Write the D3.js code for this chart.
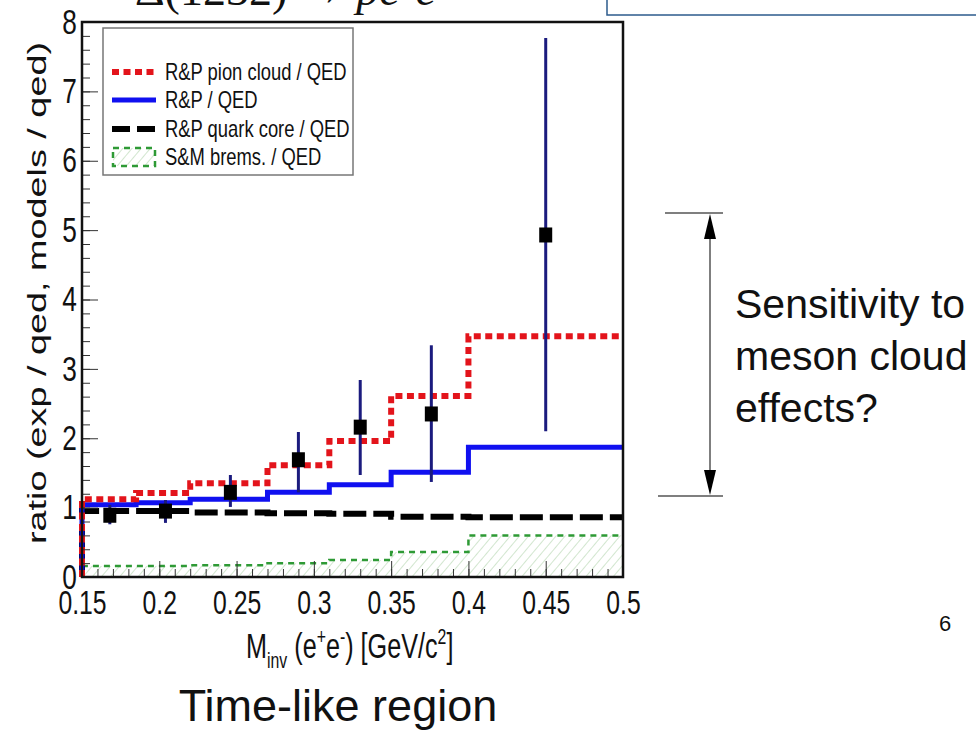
<!DOCTYPE html>
<html>
<head>
<meta charset="utf-8">
<script src="https://d3js.org/d3.v7.min.js"></script>
<style>
  body { margin: 0; background: #fff; }
  text { font-family: "Liberation Sans", Arial, sans-serif; fill: #111; }
</style>
</head>
<body>
<div id="chart"></div>
<script>
// bin edges of the model histograms (GeV/c^2)
var edges = [0.15, 0.185, 0.22, 0.27, 0.31, 0.35, 0.40, 0.50];
// ratio values per bin
var pionCloud = [1.12, 1.21, 1.35, 1.61, 1.96, 2.61, 3.47];
var rpQed     = [1.04, 1.07, 1.12, 1.22, 1.33, 1.51, 1.87];
var quarkCore = [0.95, 0.95, 0.93, 0.92, 0.91, 0.87, 0.86];
var smBrems   = [0.16, 0.16, 0.17, 0.20, 0.245, 0.36, 0.60];

// measured points exp / qed
var ptMass = [0.168, 0.204, 0.246, 0.290, 0.330, 0.376, 0.450];
var ptVal  = [0.89, 0.95, 1.22, 1.69, 2.16, 2.35, 4.93];
var ptLow  = [0.76, 0.78, 1.01, 1.22, 1.47, 1.37, 2.10];
var ptHigh = [1.04, 1.11, 1.47, 2.09, 2.84, 3.34, 7.77];

var xTicks = [0.15, 0.2, 0.25, 0.3, 0.35, 0.4, 0.45, 0.5];
var xTickLabels = ["0.15", "0.2", "0.25", "0.3", "0.35", "0.4", "0.45", "0.5"];
var yTicks = [0, 1, 2, 3, 4, 5, 6, 7, 8];
var legendNames = ["R&P pion cloud / QED", "R&P / QED", "R&P quark core / QED", "S&M brems. / QED"];

var W = 976, H = 731;
var margin = {top: 22, right: 353, bottom: 154, left: 82},
    width = W - margin.left - margin.right,
    height = H - margin.top - margin.bottom;

var svg = d3.select("#chart").append("svg")
    .attr("width", W).attr("height", H);

var defs = svg.append("defs");
var pat = defs.append("pattern")
    .attr("id", "hatch")
    .attr("width", 7).attr("height", 7)
    .attr("patternUnits", "userSpaceOnUse")
    .attr("patternTransform", "rotate(40)");
pat.append("line")
    .attr("x1", 0).attr("y1", 0).attr("x2", 0).attr("y2", 7)
    .attr("stroke", "#b9d9b4").attr("stroke-width", 1.3);

// squeezed text like the ROOT picture
function label(parent, x, y, txt, size, k, anchor) {
  var g = parent.append("g")
    .attr("transform", "translate(" + x + "," + y + ") scale(" + k + ",1)");
  var t = g.append("text")
    .attr("text-anchor", anchor || "start")
    .style("font-size", size + "px")
    .text(txt);
  return t;
}

// title cut at the top of the slide
var title = svg.append("text")
    .attr("x", 135).attr("y", 5)
    .style("font-family", "'Liberation Serif', 'DejaVu Serif', serif")
    .style("font-size", "46px");
title.append("tspan").text("Δ(1232) → ");
title.append("tspan").style("font-style", "italic").text("pe");
title.append("tspan").attr("dy", -16).style("font-size", "28px").text("+");
title.append("tspan").attr("dy", 16).style("font-style", "italic").text("e");
title.append("tspan").attr("dy", -16).style("font-size", "28px").text("−");

svg.append("rect")
    .attr("x", 607).attr("y", -10)
    .attr("width", 400).attr("height", 25)
    .attr("fill", "none").attr("stroke", "#2d5b8c").attr("stroke-width", 1.5);

var plot = svg.append("g")
    .attr("transform", "translate(" + margin.left + "," + margin.top + ")");

var x = d3.scaleLinear().domain([0.15, 0.5]).range([0, width]);
var y = d3.scaleLinear().domain([0, 8]).range([height, 0]);

// step histograms
function stepData(vals) {
  var pts = [[edges[0], 0]];
  vals.forEach(function(v, i) { pts.push([edges[i], v]); });
  pts.push([edges[edges.length - 1], vals[vals.length - 1]]);
  return pts;
}
var step = d3.line()
    .x(function(d) { return x(d[0]); })
    .y(function(d) { return y(d[1]); })
    .curve(d3.curveStepAfter);

var bremsArea = d3.area()
    .x(function(d) { return x(d[0]); })
    .y0(y(0))
    .y1(function(d) { return y(d[1]); })
    .curve(d3.curveStepAfter);

plot.append("path")
    .datum(stepData(smBrems))
    .attr("d", bremsArea)
    .attr("fill", "url(#hatch)");

plot.append("path")
    .datum(stepData(smBrems))
    .attr("d", step)
    .attr("fill", "none")
    .attr("stroke", "#2e9a35")
    .attr("stroke-width", 2.5)
    .attr("stroke-dasharray", "6,5");

plot.append("path")
    .datum(stepData(quarkCore))
    .attr("d", step)
    .attr("fill", "none")
    .attr("stroke", "#000")
    .attr("stroke-width", 6)
    .attr("stroke-dasharray", "23,7");

plot.append("path")
    .datum(stepData(rpQed))
    .attr("d", step)
    .attr("fill", "none")
    .attr("stroke", "#1010f0")
    .attr("stroke-width", 5);

plot.append("path")
    .datum(stepData(pionCloud))
    .attr("d", step)
    .attr("fill", "none")
    .attr("stroke", "#e3141b")
    .attr("stroke-width", 6)
    .attr("stroke-dasharray", "7,4.5");

// data points with errors
var pts = ptMass.map(function(m, i) {
  return {m: m, v: ptVal[i], lo: ptLow[i], hi: ptHigh[i]};
});
plot.selectAll(".err").data(pts).enter().append("line")
    .attr("class", "err")
    .attr("x1", function(d) { return x(d.m); })
    .attr("x2", function(d) { return x(d.m); })
    .attr("y1", function(d) { return y(d.lo); })
    .attr("y2", function(d) { return y(d.hi); })
    .attr("stroke", "#1b1b7e")
    .attr("stroke-width", 3);
plot.selectAll(".pt").data(pts).enter().append("rect")
    .attr("class", "pt")
    .attr("x", function(d) { return x(d.m) - 6.5; })
    .attr("y", function(d) { return y(d.v) - 7.5; })
    .attr("width", 13).attr("height", 15)
    .attr("fill", "#000");

// axes
var xMinor = d3.range(16, 50).map(function(i) { return i / 100; });
plot.append("g")
    .attr("transform", "translate(0," + height + ")")
    .call(d3.axisBottom(x).tickValues(xMinor).tickSize(-8).tickFormat(""))
    .call(function(g) { g.select(".domain").remove(); })
    .selectAll("line").attr("stroke", "#333");

var xAxis = plot.append("g")
    .attr("transform", "translate(0," + height + ")")
    .call(d3.axisBottom(x).tickValues(xTicks).tickSize(-16).tickPadding(14)
      .tickFormat(function(d, i) { return xTickLabels[i]; }));
xAxis.select(".domain").remove();
xAxis.selectAll("line").attr("stroke", "#333");
xAxis.selectAll("text")
    .style("font-size", "33px")
    .style("font-family", "'Liberation Sans', Arial, sans-serif")
    .attr("fill", "#111")
    .attr("transform", "scale(0.75,1)");

var yMinor = d3.range(0, 41).map(function(i) { return i / 5; });
plot.append("g")
    .call(d3.axisLeft(y).tickValues(yMinor).tickSize(-8).tickFormat(""))
    .call(function(g) { g.select(".domain").remove(); })
    .selectAll("line").attr("stroke", "#333");

var yAxis = plot.append("g")
    .call(d3.axisLeft(y).tickValues(yTicks).tickSize(-16).tickPadding(7));
yAxis.select(".domain").remove();
yAxis.selectAll("line").attr("stroke", "#333");
yAxis.selectAll("text")
    .style("font-size", "35px")
    .style("font-family", "'Liberation Sans', Arial, sans-serif")
    .attr("fill", "#111")
    .attr("transform", "scale(0.75,1)");

// frame
plot.append("rect")
    .attr("x", 0).attr("y", 0)
    .attr("width", width).attr("height", height)
    .attr("fill", "none").attr("stroke", "#111").attr("stroke-width", 2.5);

// legend
var leg = svg.append("g");
leg.append("rect")
    .attr("x", 103).attr("y", 28).attr("width", 250).attr("height", 147)
    .attr("fill", "#fff").attr("stroke", "#777").attr("stroke-width", 1.5);
var legY = [72, 100, 129, 157];
var legStyles = [
  {c: "#e3141b", w: 6, dash: "7,4.5"},
  {c: "#1010f0", w: 5, dash: null},
  {c: "#000", w: 6, dash: "18,7"},
  {c: "#2e9a35", w: 2.5, dash: "6,5"}
];
legendNames.forEach(function(name, i) {
  var s = legStyles[i];
  if (i < 3) {
    leg.append("line")
      .attr("x1", 112).attr("x2", 156)
      .attr("y1", legY[i]).attr("y2", legY[i])
      .attr("stroke", s.c).attr("stroke-width", s.w)
      .attr("stroke-dasharray", s.dash);
  } else {
    leg.append("rect")
      .attr("x", 113).attr("y", legY[i] - 9).attr("width", 42).attr("height", 18)
      .attr("fill", "url(#hatch)")
      .attr("stroke", s.c).attr("stroke-width", s.w)
      .attr("stroke-dasharray", s.dash);
  }
  label(leg, 165, legY[i] + 8, name, 23, 0.8);
});

// axis titles
var yl = svg.append("g")
    .attr("transform", "translate(46,293) rotate(-90)");
yl.append("text")
    .attr("text-anchor", "middle")
    .style("font-size", "26px")
    .attr("textLength", 502)
    .attr("lengthAdjust", "spacingAndGlyphs")
    .text("ratio (exp / qed, models / qed)");

var xl = svg.append("g")
    .attr("transform", "translate(246,658) scale(0.72,1)");
var xt = xl.append("text").style("font-size", "35px");
xt.append("tspan").text("M");
xt.append("tspan").attr("dy", 10).style("font-size", "22px").text("inv");
xt.append("tspan").attr("dy", -10).text(" (e");
xt.append("tspan").attr("dy", -14).style("font-size", "22px").text("+");
xt.append("tspan").attr("dy", 14).text("e");
xt.append("tspan").attr("dy", -14).style("font-size", "22px").text("-");
xt.append("tspan").attr("dy", 14).text(") [GeV/c");
xt.append("tspan").attr("dy", -14).style("font-size", "22px").text("2");
xt.append("tspan").attr("dy", 14).text("]");

svg.append("text")
    .attr("x", 338).attr("y", 721)
    .attr("text-anchor", "middle")
    .style("font-size", "45px")
    .text("Time-like region");

// annotation on the right
var ann = svg.append("g");
ann.append("line").attr("x1", 665).attr("x2", 723).attr("y1", 213).attr("y2", 213)
    .attr("stroke", "#555").attr("stroke-width", 1.5);
ann.append("line").attr("x1", 658).attr("x2", 723).attr("y1", 496).attr("y2", 496)
    .attr("stroke", "#555").attr("stroke-width", 1.5);
ann.append("line").attr("x1", 710).attr("x2", 710).attr("y1", 220).attr("y2", 490)
    .attr("stroke", "#555").attr("stroke-width", 1.5);
ann.append("path").attr("d", "M710,214 L704,239 L716,239 Z").attr("fill", "#000");
ann.append("path").attr("d", "M710,495 L704,470 L716,470 Z").attr("fill", "#000");
["Sensitivity to", "meson cloud", "effects?"].forEach(function(s, i) {
  ann.append("text")
    .attr("x", 735).attr("y", 318 + i * 52)
    .style("font-size", "41px")
    .text(s);
});

svg.append("text")
    .attr("x", 945).attr("y", 631)
    .attr("text-anchor", "middle")
    .style("font-size", "22px")
    .attr("fill", "#444")
    .text("6");
</script>
</body>
</html>
